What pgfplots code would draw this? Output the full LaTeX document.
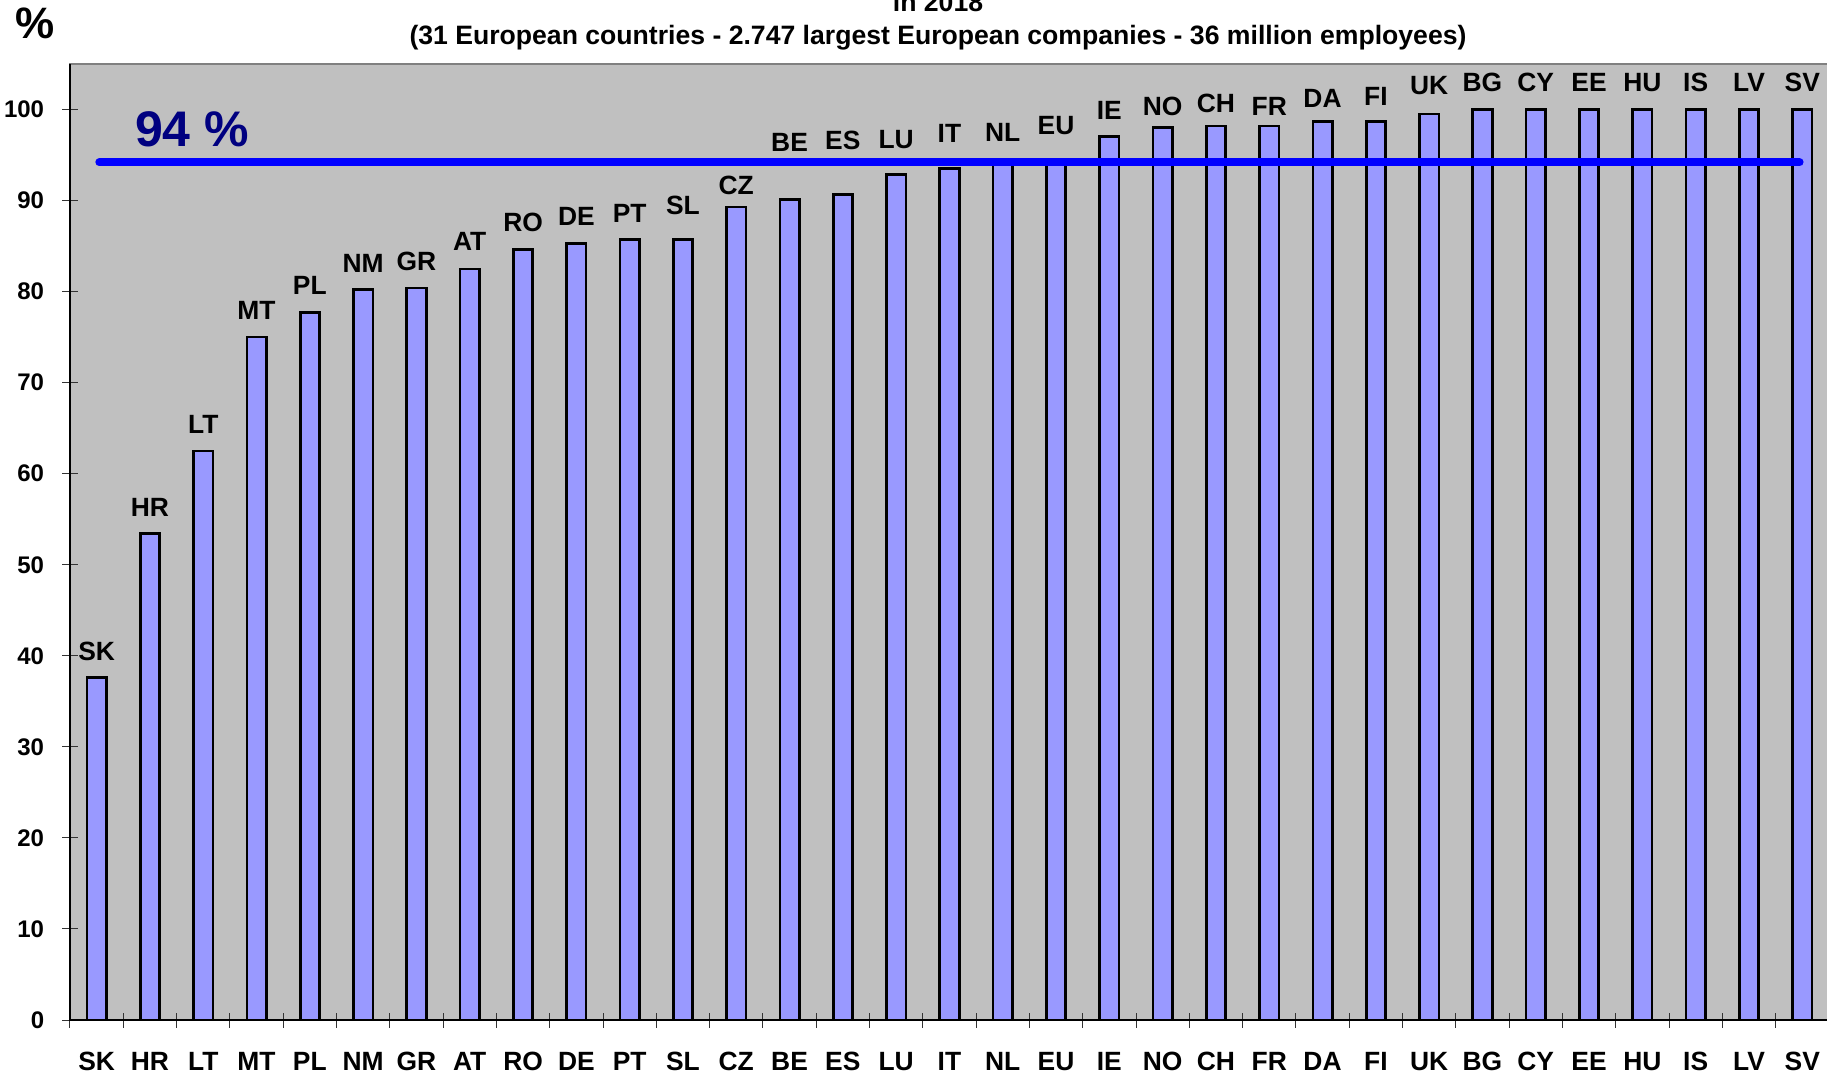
\documentclass[border=0pt]{standalone}
\usepackage{pgfplots}
\pgfplotsset{compat=1.18}
\usepackage{pgfplotstable}
\usepackage{fontspec}
\setmainfont{Liberation Sans}
\definecolor{plotbg}{HTML}{C0C0C0}
\definecolor{barfill}{HTML}{9999FF}
\definecolor{avgline}{HTML}{0000FF}
\definecolor{avgtext}{HTML}{000080}

\pgfplotstableread{
x  val   lab  laby
0  37.6  SK   39.45
1  53.4  HR   55.31
2  62.5  LT   64.40
3  75.0  MT   76.92
4  77.7  PL   79.59
5  80.2  NM   82.05
6  80.4  GR   82.31
7  82.5  AT   84.43
8  84.6  RO   86.52
9  85.3  DE   87.18
10 85.7  PT   87.55
11 85.7  SL   88.46
12 89.3  CZ   90.58
13 90.1  BE   95.31
14 90.7  ES   95.60
15 92.9  LU   95.71
16 93.5  IT   96.37
17 93.9  NL   96.41
18 94.1  EU   97.18
19 97.0  IE   98.90
20 98.0  NO   99.26
21 98.2  CH   99.64
22 98.2  FR   99.26
23 98.7  DA   100.19
24 98.7  FI   100.36
25 99.5  UK   101.65
26 100   BG   101.95
27 100   CY   101.95
28 100   EE   101.95
29 100   HU   101.95
30 100   IS   101.95
31 100   LV   101.95
32 100   SV   101.95
}\datatable

\begin{document}
\begin{tikzpicture}
\useasboundingbox (0,0) rectangle (913.5pt,536.5pt);
\begin{axis}[
  at={(35pt,26.5pt)}, anchor=south west,
  scale only axis,
  width=879.45pt, height=478pt,
  xmin=-0.5, xmax=32.5,
  ymin=0, ymax=105,
  axis background/.style={fill=plotbg},
  axis line style={draw=gray, line width=1.2pt},
  xtick={-0.5,0.5,...,32.5},
  x tick label as interval=true,
  xticklabels={SK,HR,LT,MT,PL,NM,GR,AT,RO,DE,PT,SL,CZ,BE,ES,LU,IT,NL,EU,IE,NO,CH,FR,DA,FI,UK,BG,CY,EE,HU,IS,LV,SV},
  ytick={0,10,...,100},
  xtick pos=bottom, ytick pos=left,
  tick align=center,
  major tick length=7.5pt,
  tick style={black!80, line width=0.5pt},
  xticklabel style={font=\fontsize{13.2}{15}\selectfont\bfseries, inner sep=0pt, anchor=north, yshift=-12pt, text depth=0pt},
  yticklabel style={font=\fontsize{12}{14}\selectfont\bfseries, inner sep=0pt, anchor=east, xshift=-9pt},
  /pgf/number format/assume math mode=true,
  clip=false,
]
\addplot[ybar, bar width=9.7pt, fill=barfill, draw=black, line width=1.35pt] table[x=x, y=val] {\datatable};
\draw[black, line width=0.8pt] (rel axis cs:0,1) -- (rel axis cs:0,0) -- (rel axis cs:1,0);
\addplot[avgline, line width=4pt, line cap=round] coordinates {(0.05,94.2) (31.95,94.2)};
\addplot[draw=none, mark=none, nodes near coords, point meta=explicit symbolic,
  every node near coord/.append style={font=\fontsize{13.2}{15}\selectfont\bfseries, inner sep=0pt, anchor=south, text depth=0pt}]
  table[x=x, y=laby, meta=lab] {\datatable};
\node[anchor=base, font=\fontsize{25}{30}\selectfont\bfseries, text=avgtext, inner sep=0pt] at (axis cs:1.79,95.93) {94 \%};
\end{axis}
\node[font=\fontsize{22}{26}\selectfont\bfseries, inner sep=0pt] at (17.5pt,524.8pt) {\%};
\node[anchor=base, font=\fontsize{13.3}{16}\selectfont\bfseries, inner sep=0pt] at (469pt,530.5pt) {in 2018};
\node[anchor=base, font=\fontsize{13.3}{16}\selectfont\bfseries, inner sep=0pt] at (469pt,514pt) {(31 European countries - 2.747 largest European companies - 36 million employees)};
\end{tikzpicture}
\end{document}
